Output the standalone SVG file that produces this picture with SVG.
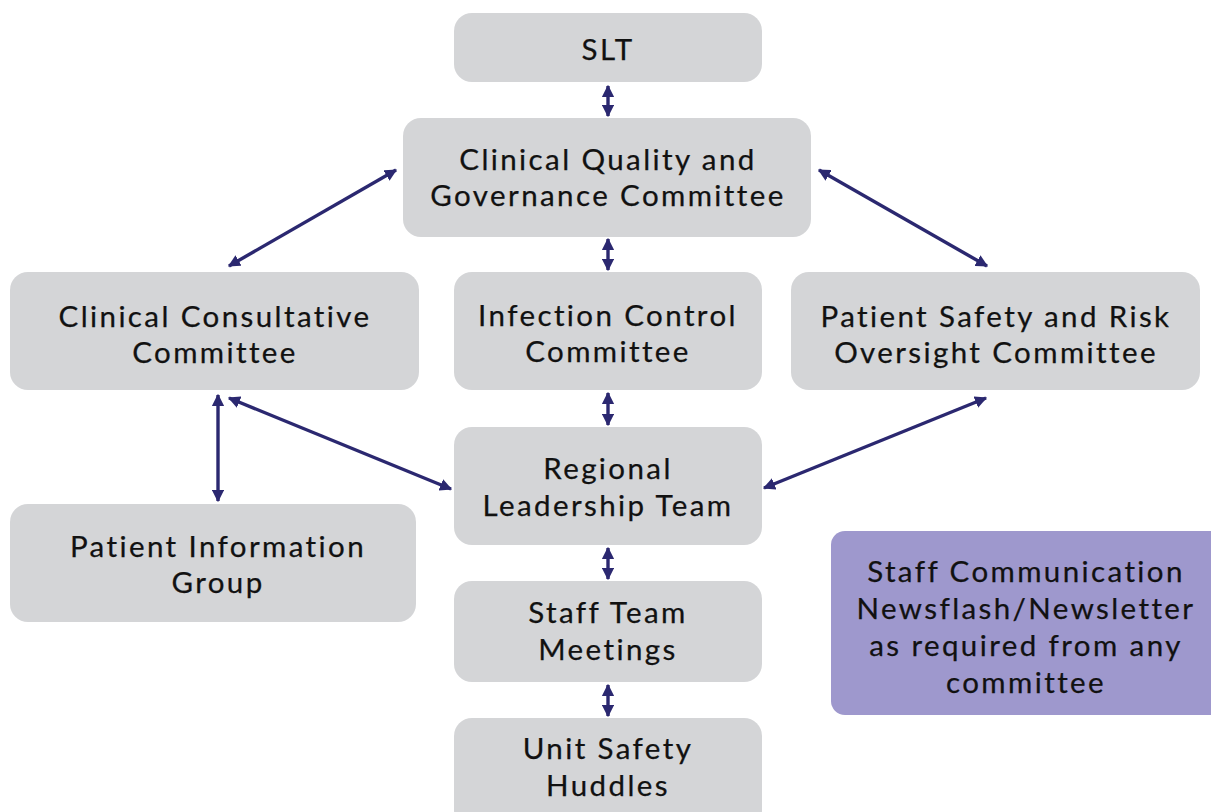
<svg xmlns="http://www.w3.org/2000/svg" width="1211" height="812" viewBox="0 0 1211 812">
  <defs>
    <marker id="ah" viewBox="0 0 10 10" refX="9" refY="5" markerWidth="3.6" markerHeight="3.6" orient="auto-start-reverse" markerUnits="strokeWidth">
      <path d="M0,0 L10,5 L0,10 Z" fill="#2b2870"/>
    </marker>
    <style>
      .box { fill: #d4d5d7; }
      .note { fill: #9e98cd; }
      .lbl { font-family: Lato, "Open Sans", "Liberation Sans", sans-serif; font-size: 29.5px; letter-spacing: 2.4px; fill: #111111; stroke: #111111; stroke-width: 0.25; text-anchor: middle; }
      .link { stroke: #2b2870; stroke-width: 3.4; fill: none; marker-start: url(#ah); marker-end: url(#ah); }
    </style>
  </defs>
  <rect width="1211" height="812" fill="#ffffff"/>

  <g id="connectors">
    <line class="link" x1="608" y1="86" x2="608" y2="116"/>
    <line class="link" x1="608" y1="239" x2="608" y2="270"/>
    <line class="link" x1="608" y1="393" x2="608" y2="425"/>
    <line class="link" x1="608" y1="548" x2="608" y2="579"/>
    <line class="link" x1="608" y1="685" x2="608" y2="716"/>
    <line class="link" x1="396" y1="170" x2="229" y2="266"/>
    <line class="link" x1="819" y1="170" x2="987" y2="266"/>
    <line class="link" x1="218" y1="395" x2="218" y2="501"/>
    <line class="link" x1="229" y1="398" x2="451" y2="489"/>
    <line class="link" x1="986" y1="398" x2="764" y2="488"/>
  </g>

  <g id="slt">
    <rect class="box" x="454" y="13" width="308" height="69" rx="18"/>
    <text class="lbl" x="608" y="60">SLT</text>
  </g>
  <g id="cqg">
    <rect class="box" x="403" y="118" width="408" height="119" rx="18"/>
    <text class="lbl" x="608" y="170">Clinical Quality and</text>
    <text class="lbl" x="608" y="206">Governance Committee</text>
  </g>
  <g id="ccc">
    <rect class="box" x="10" y="272" width="409" height="118" rx="18"/>
    <text class="lbl" x="215" y="327">Clinical Consultative</text>
    <text class="lbl" x="215" y="363">Committee</text>
  </g>
  <g id="icc">
    <rect class="box" x="454" y="272" width="308" height="118" rx="18"/>
    <text class="lbl" x="608" y="326">Infection Control</text>
    <text class="lbl" x="608" y="362">Committee</text>
  </g>
  <g id="psr">
    <rect class="box" x="791" y="272" width="409" height="118" rx="18"/>
    <text class="lbl" x="996" y="327">Patient Safety and Risk</text>
    <text class="lbl" x="996" y="363">Oversight Committee</text>
  </g>
  <g id="rlt">
    <rect class="box" x="454" y="427" width="308" height="118" rx="18"/>
    <text class="lbl" x="608" y="479">Regional</text>
    <text class="lbl" x="608" y="516">Leadership Team</text>
  </g>
  <g id="pig">
    <rect class="box" x="10" y="504" width="406" height="118" rx="18"/>
    <text class="lbl" x="218" y="557">Patient Information</text>
    <text class="lbl" x="218" y="593">Group</text>
  </g>
  <g id="stm">
    <rect class="box" x="454" y="581" width="308" height="101" rx="18"/>
    <text class="lbl" x="608" y="623">Staff Team</text>
    <text class="lbl" x="608" y="660">Meetings</text>
  </g>
  <g id="ush">
    <rect class="box" x="454" y="718" width="308" height="110" rx="18"/>
    <text class="lbl" x="608" y="759">Unit Safety</text>
    <text class="lbl" x="608" y="796">Huddles</text>
  </g>
  <g id="staff-comm">
    <rect class="note" x="831" y="531" width="400" height="184" rx="14"/>
    <text class="lbl" x="1026" y="582">Staff Communication</text>
    <text class="lbl" x="1026" y="619">Newsflash/Newsletter</text>
    <text class="lbl" x="1026" y="656">as required from any</text>
    <text class="lbl" x="1026" y="693">committee</text>
  </g>
</svg>
